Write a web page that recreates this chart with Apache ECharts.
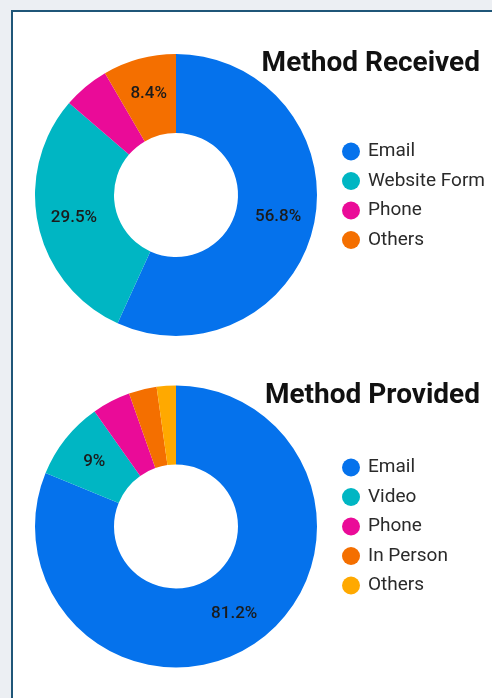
<!DOCTYPE html>
<html>
<head>
<meta charset="utf-8">
<script src="https://cdn.jsdelivr.net/npm/echarts@6/dist/echarts.min.js"></script>
<style>
  html, body { margin: 0; padding: 0; background: #eceff3; width: 492px; height: 698px; overflow: hidden; }
  #frame { position: absolute; left: 11px; top: 10px; width: 500px; height: 720px; background: #fff; border: 2px solid #1f5678; }
  .chart { position: absolute; left: 0; width: 492px; }
  #received { top: 0; height: 350px; }
  #provided { top: 350px; height: 348px; }
</style>
</head>
<body>
<div id="frame"></div>
<div id="received" class="chart"></div>
<div id="provided" class="chart"></div>
<script>
// Method Received
const receivedNames = ['Email', 'Website Form', 'Phone', 'Others'];
const receivedValues = [56.8, 29.5, 5.3, 8.4];
const receivedColors = ['#0572ec', '#00b6c3', '#ea0b98', '#f46f00'];

// Method Provided
const providedNames = ['Email', 'Video', 'Phone', 'In Person', 'Others'];
const providedValues = [81.2, 9, 4.4, 3.2, 2.2];
const providedColors = ['#0572ec', '#00b6c3', '#ea0b98', '#f46f00', '#ffa900'];

const FONT = 'Roboto, "Noto Sans", sans-serif';

function buildOption(title, names, values, colors, centerY, legendTop) {
  return {
    animation: false,
    color: colors,
    title: {
      text: title,
      right: 7,
      top: centerY - 150,
      textStyle: { fontFamily: FONT, fontSize: 28, fontWeight: 'bold', color: '#111' }
    },
    legend: {
      orient: 'vertical',
      left: 337,
      top: legendTop,
      icon: 'circle',
      itemWidth: 18,
      itemHeight: 18,
      itemGap: 10.5,
      data: names,
      textStyle: { fontFamily: FONT, fontSize: 19, color: '#2a2a2a', padding: [0, 0, 0, 3] }
    },
    series: [
      {
        type: 'pie',
        center: [176, centerY],
        radius: [62, 141],
        startAngle: 90,
        clockwise: true,
        avoidLabelOverlap: false,
        label: {
          show: true,
          position: 'inside',
          fontFamily: FONT,
          fontSize: 17,
          fontWeight: 500,
          color: '#1b1b1b',
          formatter: p => (p.value >= 8 ? p.value + '%' : '')
        },
        labelLine: { show: false },
        emphasis: { disabled: true },
        data: names.map((n, i) => ({ name: n, value: values[i] }))
      }
    ]
  };
}

const receivedChart = echarts.init(document.getElementById('received'));
receivedChart.setOption(buildOption('Method Received', receivedNames, receivedValues, receivedColors, 195, 137));

const providedChart = echarts.init(document.getElementById('provided'));
providedChart.setOption(buildOption('Method Provided', providedNames, providedValues, providedColors, 176.5, 103));
</script>
</body>
</html>
